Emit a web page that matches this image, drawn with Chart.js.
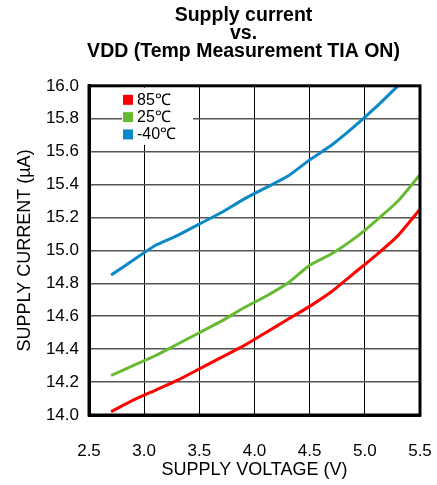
<!DOCTYPE html>
<html>
<head>
<meta charset="utf-8">
<script src="https://cdn.jsdelivr.net/npm/chart.js@4.4.1/dist/chart.umd.min.js"></script>
<style>
  html, body { margin: 0; padding: 0; background: #fff; }
  #wrap { width: 437px; height: 485px; }
</style>
</head>
<body>
<div id="wrap"><canvas id="chart" width="437" height="485"></canvas></div>
<script>
// supply voltage (V)
const voltage = [2.7, 2.9, 3.1, 3.3, 3.5, 3.7, 3.9, 4.1, 4.3, 4.5, 4.7, 4.9, 5.1, 5.3, 5.5];
// supply current (uA)
const current85 = [14.02, 14.09, 14.15, 14.21, 14.28, 14.35, 14.42, 14.50, 14.58, 14.66, 14.75, 14.86, 14.97, 15.09, 15.25];
const current25 = [14.24, 14.30, 14.36, 14.43, 14.50, 14.57, 14.65, 14.72, 14.80, 14.91, 14.98, 15.07, 15.18, 15.30, 15.46];
const currentM40 = [14.85, 14.94, 15.03, 15.09, 15.16, 15.23, 15.31, 15.38, 15.45, 15.55, 15.64, 15.75, 15.87, 16.00, null];

const seriesLabels = ["85\u2103", "25\u2103", "-40\u2103"];
const xTicks = [2.5, 3.0, 3.5, 4.0, 4.5, 5.0, 5.5];
const yTicks = [14.0, 14.2, 14.4, 14.6, 14.8, 15.0, 15.2, 15.4, 15.6, 15.8, 16.0];

Chart.defaults.font.family = "'Liberation Sans', Arial, sans-serif";
Chart.defaults.color = "#000";

function toPoints(ys) {
    return voltage.map((v, i) => ({ x: v, y: ys[i] }));
}

// thick black frame round the plot
const framePlugin = {
    id: "frame",
    afterLayout(chart) {
        // nudge the title so it sits a bit left of the plot centre
        if (chart.titleBlock) {
            chart.titleBlock.left = 50;
            chart.titleBlock.right = 437;
        }
    },
    afterDatasetsDraw(chart) {
        const a = chart.chartArea;
        const ctx = chart.ctx;
        ctx.save();
        ctx.strokeStyle = "#000";
        ctx.lineWidth = 3;
        ctx.strokeRect(a.left, a.top, a.right - a.left, a.bottom - a.top);
        ctx.restore();
    }
};

// legend sitting inside the plot, top left
const insideLegend = {
    id: "insideLegend",
    afterDatasetsDraw(chart) {
        const a = chart.chartArea;
        const ctx = chart.ctx;
        ctx.save();
        ctx.fillStyle = "#fff";
        ctx.fillRect(a.left + 33, a.top + 2, 71, 57);
        ctx.font = "16px 'Liberation Sans', Arial, sans-serif";
        ctx.textBaseline = "middle";
        chart.data.datasets.forEach((ds, i) => {
            const cy = a.top + 14 + i * 17.3;
            ctx.fillStyle = ds.borderColor;
            ctx.fillRect(a.left + 34, cy - 5, 10, 10);
            ctx.fillStyle = "#000";
            ctx.fillText(ds.label, a.left + 48, cy + 0.5);
        });
        ctx.restore();
    }
};

new Chart(document.getElementById("chart"), {
    type: "line",
    data: {
        datasets: [
            { label: seriesLabels[0], data: toPoints(current85), borderColor: "#ff0000" },
            { label: seriesLabels[1], data: toPoints(current25), borderColor: "#66bb33" },
            { label: seriesLabels[2], data: toPoints(currentM40), borderColor: "#0a88c8" }
        ]
    },
    options: {
        responsive: false,
        animation: false,
        layout: { padding: { right: 17 } },
        elements: {
            line: { borderWidth: 3, tension: 0.2, fill: false },
            point: { radius: 0 }
        },
        plugins: {
            legend: { display: false },
            tooltip: { enabled: false },
            title: {
                display: true,
                text: ["Supply current", "vs.", "VDD (Temp Measurement TIA ON)"],
                font: { size: 19.5, weight: "bold", lineHeight: 0.92 },
                padding: { top: 7, bottom: 25 },
                fullSize: false,
                color: "#000"
            }
        },
        scales: {
            x: {
                type: "linear",
                min: 2.5,
                max: 5.5,
                afterBuildTicks: s => { s.ticks = xTicks.map(v => ({ value: v })); },
                afterFit: s => { s.height = 70; s.paddingLeft = 0; s.paddingRight = 0; },
                ticks: {
                    padding: 26,
                    font: { size: 17 },
                    maxRotation: 0,
                    callback: v => v.toFixed(1)
                },
                grid: { color: "#000", lineWidth: 1, drawTicks: false },
                border: { color: "#000", width: 3 },
                title: {
                    display: true,
                    text: "SUPPLY VOLTAGE (V)",
                    font: { size: 18 },
                    padding: { top: 0, bottom: 4 }
                }
            },
            y: {
                min: 14.0,
                max: 16.0,
                afterBuildTicks: s => { s.ticks = yTicks.map(v => ({ value: v })); },
                afterFit: s => { s.width = 89; s.paddingTop = 0; s.paddingBottom = 0; },
                ticks: {
                    padding: 10,
                    font: { size: 17 },
                    callback: v => v.toFixed(1)
                },
                grid: { color: "#555", lineWidth: 1.5, drawTicks: false },
                border: { color: "#000", width: 3 },
                title: {
                    display: true,
                    text: "SUPPLY CURRENT (\u00b5A)",
                    font: { size: 18 },
                    padding: { top: 14, bottom: 0 }
                }
            }
        }
    },
    plugins: [framePlugin, insideLegend]
});
</script>
</body>
</html>
